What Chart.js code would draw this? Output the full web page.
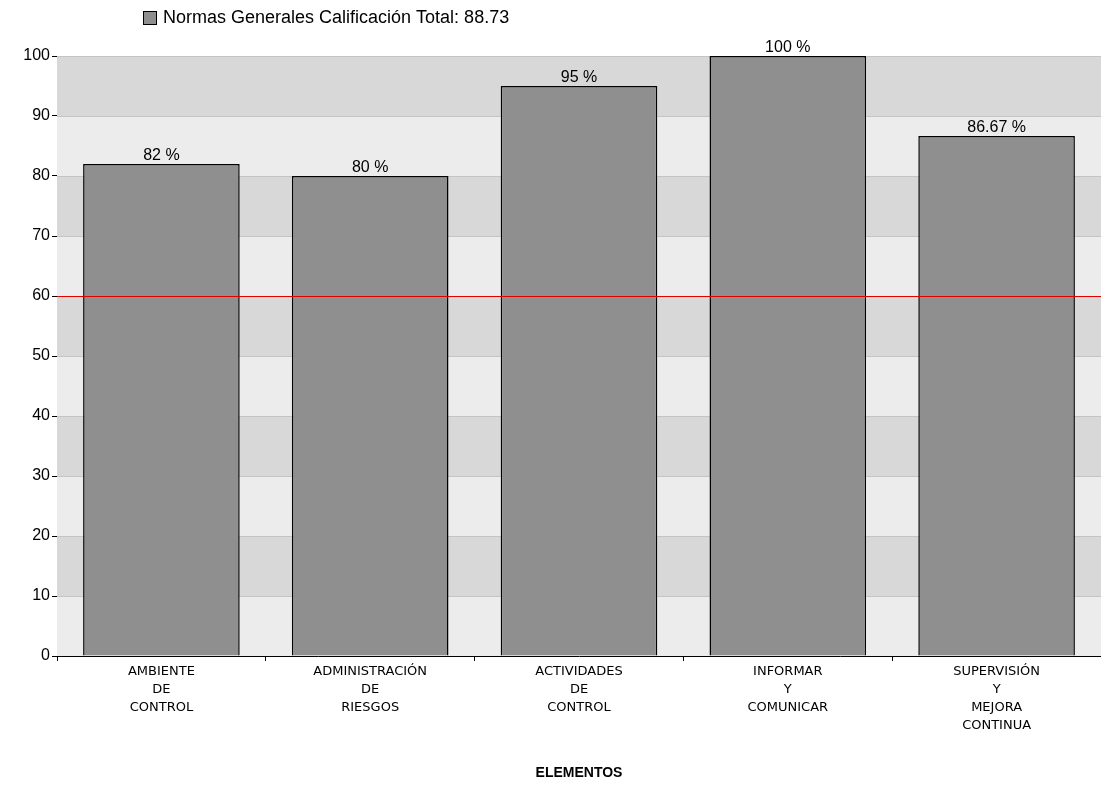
<!DOCTYPE html>
<html><head><meta charset="utf-8">
<script src="https://cdn.jsdelivr.net/npm/chart.js@4"></script>
<style>body{margin:0;background:#fff}#wrap{width:1101px;height:792px}</style>
</head><body><div id="wrap"><canvas id="c"></canvas></div>
<script>
const categories = [['AMBIENTE','DE','CONTROL'],['ADMINISTRACIÓN','DE','RIESGOS'],['ACTIVIDADES','DE','CONTROL'],['INFORMAR','Y','COMUNICAR'],['SUPERVISIÓN','Y','MEJORA','CONTINUA']];
const scores = [82, 80, 95, 100, 86.67];
const scoreLabels = ['82 %', '80 %', '95 %', '100 %', '86.67 %'];
const seriesName = 'Normas Generales Calificación Total: 88.73';
const threshold = 60;

// alternating bands, red threshold line, value labels, legend
const extras = {
  id: 'extras',
  beforeDatasetsDraw(chart) {
    const {ctx, chartArea: a, scales: {y}} = chart;
    ctx.save();
    for (let v = 0; v < 100; v += 10) {
      ctx.fillStyle = (v / 10) % 2 === 0 ? '#ececec' : '#d8d8d8';
      const t = y.getPixelForValue(v + 10), b = y.getPixelForValue(v);
      ctx.fillRect(a.left, t, a.right - a.left, b - t);
      ctx.strokeStyle = '#c4c4c4';
      ctx.beginPath(); ctx.moveTo(a.left, t + 0.5); ctx.lineTo(a.right, t + 0.5); ctx.stroke();
    }
    ctx.restore();
  },
  afterDatasetsDraw(chart) {
    const {ctx, chartArea: a, scales: {y}} = chart;
    ctx.save();
    const py = Math.round(y.getPixelForValue(threshold)) + 0.5;
    ctx.strokeStyle = '#e00000'; ctx.lineWidth = 1;
    ctx.beginPath(); ctx.moveTo(a.left, py); ctx.lineTo(a.right, py); ctx.stroke();
    ctx.fillStyle = '#000'; ctx.font = '16px "Liberation Sans", Arial'; ctx.textAlign = 'center'; ctx.textBaseline = 'bottom';
    chart.getDatasetMeta(0).data.forEach((bar, i) => ctx.fillText(scoreLabels[i], bar.x, bar.y));
    // legend
    ctx.fillStyle = '#8f8f8f'; ctx.fillRect(143.5, 11.5, 13, 13);
    ctx.strokeStyle = '#000'; ctx.strokeRect(143.5, 11.5, 13, 13);
    ctx.fillStyle = '#000'; ctx.font = '18px "Liberation Sans", Arial'; ctx.textAlign = 'left'; ctx.textBaseline = 'middle';
    ctx.fillText(seriesName, 163, 18);
    ctx.restore();
  }
};

new Chart(document.getElementById('c'), {
  type: 'bar',
  data: {
    labels: categories,
    datasets: [{
      label: seriesName,
      data: scores,
      backgroundColor: '#8f8f8f',
      borderColor: '#000',
      borderWidth: 1.5,
      categoryPercentage: 0.75,
      barPercentage: 1
    }]
  },
  options: {
    responsive: true, maintainAspectRatio: false, animation: false,
    layout: {padding: {top: 56, right: 0, left: 0, bottom: 6}},
    plugins: {legend: {display: false}, tooltip: {enabled: false}},
    scales: {
      x: {
        afterFit: s => { s.height = 130; },
        grid: {display: true, drawOnChartArea: false, tickLength: 5, color: '#000', offset: true},
        border: {color: '#000'},
        ticks: {color: '#000', maxRotation: 0, padding: 2, font: {size: 13, lineHeight: 1.38, family: '"DejaVu Sans"'}},
        title: {display: true, text: 'ELEMENTOS', color: '#000', font: {size: 14, weight: 'bold', family: '"Liberation Sans", Arial'}}
      },
      y: {
        min: 0, max: 100,
        afterFit: s => { s.width = 57; },
        grid: {display: true, drawOnChartArea: false, tickLength: 5, color: '#000'},
        border: {color: '#000'},
        ticks: {stepSize: 10, color: '#000', padding: 2, font: {size: 16, family: '"Liberation Sans", Arial'}}
      }
    }
  },
  plugins: [extras]
});
</script></body></html>
